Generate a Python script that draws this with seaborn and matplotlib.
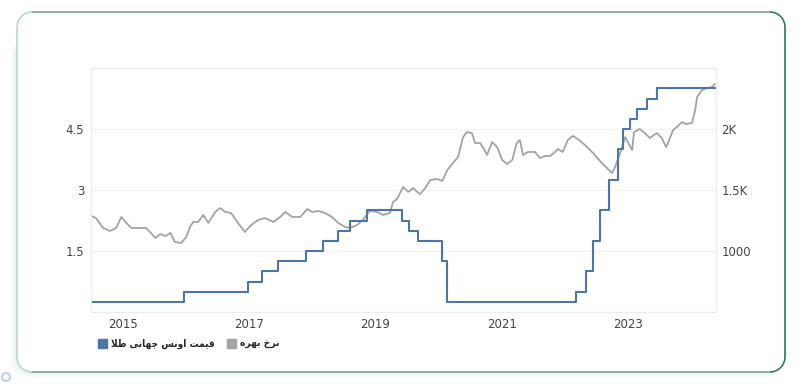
import matplotlib
matplotlib.use("Agg")
import numpy as np
import matplotlib.pyplot as plt
import seaborn as sns
from matplotlib.patches import Patch, Ellipse, Polygon
from matplotlib.collections import LineCollection

# --- data ---
# blue step line (left axis): date of each change (decimal year) and new level
rate_years = [2014.49, 2015.97, 2016.98, 2017.20, 2017.45, 2017.90, 2018.17, 2018.40,
              2018.60, 2018.87, 2019.42, 2019.54, 2019.68, 2020.05, 2020.13, 2022.18,
              2022.34, 2022.45, 2022.56, 2022.70, 2022.85, 2022.93, 2023.03, 2023.14,
              2023.30, 2023.47, 2024.40]
rate_values = [0.25, 0.5, 0.75, 1.0, 1.25, 1.5, 1.75, 2.0,
               2.25, 2.5, 2.25, 2.0, 1.75, 1.25, 0.25, 0.5,
               1.0, 1.75, 2.5, 3.25, 4.0, 4.5, 4.75, 5.0,
               5.25, 5.5, 5.5]

# grey line (right axis)
gold_years = [2014.50, 2014.57, 2014.68, 2014.79, 2014.89, 2014.97, 2015.05, 2015.13,
              2015.24, 2015.36, 2015.44, 2015.51, 2015.59, 2015.67, 2015.75, 2015.82,
              2015.92, 2016.00, 2016.06, 2016.11, 2016.19, 2016.27, 2016.35, 2016.46,
              2016.54, 2016.62, 2016.71, 2016.82, 2016.93, 2017.03, 2017.14, 2017.25,
              2017.38, 2017.49, 2017.57, 2017.68, 2017.81, 2017.92, 2018.00, 2018.09,
              2018.20, 2018.31, 2018.41, 2018.52, 2018.60, 2018.71, 2018.80, 2018.91,
              2019.03, 2019.12, 2019.23, 2019.28, 2019.34, 2019.39, 2019.44, 2019.52,
              2019.60, 2019.68, 2019.71, 2019.79, 2019.87, 2019.98, 2020.06, 2020.14,
              2020.23, 2020.31, 2020.39, 2020.45, 2020.53, 2020.58, 2020.66, 2020.71,
              2020.77, 2020.85, 2020.93, 2021.01, 2021.09, 2021.17, 2021.24, 2021.29,
              2021.34, 2021.42, 2021.53, 2021.61, 2021.69, 2021.77, 2021.85, 2021.89,
              2021.97, 2022.05, 2022.13, 2022.21, 2022.32, 2022.45, 2022.59, 2022.75,
              2022.80, 2022.88, 2022.96, 2023.00, 2023.07, 2023.10, 2023.19, 2023.27,
              2023.35, 2023.46, 2023.54, 2023.61, 2023.67, 2023.72, 2023.80, 2023.86,
              2023.92, 2024.02, 2024.07, 2024.10, 2024.18, 2024.26, 2024.34, 2024.38]
gold_values = [1287, 1270, 1189, 1164, 1189, 1279, 1230, 1189,
               1189, 1189, 1148, 1107, 1139, 1123, 1148, 1074,
               1066, 1115, 1197, 1238, 1238, 1295, 1230, 1320,
               1352, 1320, 1312, 1230, 1156, 1213, 1254, 1270,
               1238, 1279, 1320, 1279, 1279, 1344, 1320, 1328,
               1312, 1279, 1230, 1197, 1189, 1213, 1254, 1328,
               1320, 1295, 1312, 1402, 1426, 1475, 1525, 1484,
               1516, 1475, 1467, 1516, 1582, 1590, 1574, 1664,
               1721, 1771, 1934, 1975, 1967, 1885, 1885, 1844,
               1787, 1893, 1852, 1746, 1713, 1746, 1885, 1910,
               1787, 1812, 1812, 1762, 1779, 1779, 1812, 1836,
               1812, 1910, 1943, 1918, 1869, 1803, 1721, 1639,
               1689, 1803, 1934, 1893, 1828, 1975, 2000, 1967,
               1926, 1967, 1926, 1852, 1926, 1992, 2025, 2057,
               2041, 2049, 2156, 2262, 2320, 2336, 2344, 2369]

year_ticks = [2015, 2017, 2019, 2021, 2023]
left_ticks = [1.5, 3, 4.5]
left_labels = ["1.5", "3", "4.5"]
right_ticks = [1000, 1500, 2000]
right_labels = ["1000", "1.5K", "2K"]
legend_labels = ["قیمت اونس جهانی طلا", "نرخ بهره"]

BLUE = "#4f74a6"
GREY = "#a3a3a3"


# matplotlib has no Arabic shaping, so pick presentation forms by hand
FORMS = {  # isolated, final, initial, medial (None = joins on the right only)
    "ا": ("\uFE8D", "\uFE8E", None, None),
    "ب": ("\uFE8F", "\uFE90", "\uFE91", "\uFE92"),
    "ت": ("\uFE95", "\uFE96", "\uFE97", "\uFE98"),
    "ج": ("\uFE9D", "\uFE9E", "\uFE9F", "\uFEA0"),
    "خ": ("\uFEA5", "\uFEA6", "\uFEA7", "\uFEA8"),
    "ر": ("\uFEAD", "\uFEAE", None, None),
    "س": ("\uFEB1", "\uFEB2", "\uFEB3", "\uFEB4"),
    "ط": ("\uFEC1", "\uFEC2", "\uFEC3", "\uFEC4"),
    "ق": ("\uFED5", "\uFED6", "\uFED7", "\uFED8"),
    "ل": ("\uFEDD", "\uFEDE", "\uFEDF", "\uFEE0"),
    "م": ("\uFEE1", "\uFEE2", "\uFEE3", "\uFEE4"),
    "ن": ("\uFEE5", "\uFEE6", "\uFEE7", "\uFEE8"),
    "ه": ("\uFEE9", "\uFEEA", "\uFEEB", "\uFEEC"),
    "و": ("\uFEED", "\uFEEE", None, None),
    "ی": ("\uFEEF", "\uFEF0", "\uFEF3", "\uFEF4"),
}


def shape(text):
    words = []
    for word in text.split(" "):
        out = []
        i = 0
        prev_joins = False
        while i < len(word):
            ch = word[i]
            if ch == "ل" and i + 1 < len(word) and word[i + 1] == "ا":
                out.append("\uFEFC" if prev_joins else "\uFEFB")
                prev_joins = False
                i += 2
                continue
            iso, fin, ini, med = FORMS[ch]
            joins_next = ini is not None and i + 1 < len(word)
            if prev_joins and joins_next:
                out.append(med)
            elif prev_joins:
                out.append(fin)
            elif joins_next:
                out.append(ini)
            else:
                out.append(iso)
            prev_joins = ini is not None
            i += 1
        words.append("".join(out))
    return " ".join(words)[::-1]


W, H = 800, 384


def card_outline(x0, y0, x1, y1, r, n=12):
    # rounded rectangle as a closed polyline, pixel coords (y down) -> figure coords
    pts = []
    corners = [(x1 - r, y0 + r, -90, 0), (x1 - r, y1 - r, 0, 90),
               (x0 + r, y1 - r, 90, 180), (x0 + r, y0 + r, 180, 270)]
    for cx, cy, a0, a1 in corners:
        t = np.radians(np.linspace(a0, a1, n))
        pts += list(zip(cx + r * np.cos(t), cy + r * np.sin(t)))
    pts.append(pts[0])
    pts = np.array(pts)
    return pts, np.column_stack([pts[:, 0] / W, 1 - pts[:, 1] / H])


sns.set_theme(style="white")
plt.rcParams["font.family"] = ["DejaVu Sans"]

fig = plt.figure(figsize=(W / 100, H / 100), dpi=100)
fig.patch.set_facecolor("white")

# soft shadow under the card (down and to the left)
for grow, a in [(6, 0.12), (4, 0.18), (2, 0.28)]:
    _, sh = card_outline(17 - grow, 40, 785 - grow, 372 + grow, 15)
    fig.patches.append(Polygon(sh, closed=True, transform=fig.transFigure,
                               facecolor="#d3e8e0", edgecolor="none", alpha=a, zorder=0))

pts, pts_fig = card_outline(17, 12, 785, 372, 15)
fig.patches.append(Polygon(pts_fig, closed=True, transform=fig.transFigure,
                           facecolor="white", edgecolor="none", zorder=0.2))

# card border fades from pale on the left to dark green on the right
segs = np.stack([pts_fig[:-1], pts_fig[1:]], axis=1)
mid_x = (pts[:-1, 0] + pts[1:, 0]) / 2
t = np.clip((mid_x - 17) / 768, 0, 1)[:, None]
light = np.array([0.72, 0.83, 0.78])
dark = np.array([0.12, 0.42, 0.28])
border = LineCollection(segs, colors=light + (dark - light) * t, linewidths=1.1,
                        transform=fig.transFigure, zorder=0.3)
fig.add_artist(border)
fig.patches.append(Ellipse((6 / W, 1 - 377 / H), 8 / W, 8 / H, transform=fig.transFigure,
                           facecolor="none", edgecolor="#b7d2ea", linewidth=1.5))

ax = fig.add_axes([91 / W, 72 / H, 625 / W, 244 / H])
ax.set_zorder(2)
ax2 = ax.twinx()
ax2.set_zorder(1)
ax.patch.set_visible(False)
ax2.patch.set_facecolor("white")

sns.lineplot(x=gold_years, y=gold_values, ax=ax2, color=GREY, linewidth=1.3)
sns.lineplot(x=rate_years, y=rate_values, ax=ax, color=BLUE, linewidth=1.5,
             drawstyle="steps-post")

ax.set_xlim(2014.49, 2024.40)
ax.set_ylim(0, 6)
ax2.set_ylim(500, 2500)

ax.set_xticks(year_ticks)
ax.set_xticklabels([str(y) for y in year_ticks])
ax.set_yticks(left_ticks)
ax.set_yticklabels(left_labels)
ax2.set_yticks(right_ticks)
ax2.set_yticklabels(right_labels)

for a in (ax, ax2):
    a.set_xlabel("")
    a.set_ylabel("")
    a.tick_params(length=0, labelsize=8.5, labelcolor="#444444")
    for s in a.spines.values():
        s.set_color("#ececec")
        s.set_linewidth(0.8)
ax.tick_params(axis="x", pad=4)
ax.tick_params(axis="y", pad=5)
ax2.tick_params(axis="y", pad=4)

ax2.grid(True, axis="both", color="#f1f1f1", linewidth=0.8)
ax2.set_xticks(year_ticks)
ax.grid(False)

handles = [Patch(facecolor=BLUE, edgecolor=BLUE), Patch(facecolor=GREY, edgecolor=GREY)]
fig.legend(handles, [shape(t) for t in legend_labels], loc="center left",
           bbox_to_anchor=(93 / W, 1 - 344 / H), ncol=2, frameon=False,
           borderpad=0, handlelength=0.9, handleheight=0.9, handletextpad=0.4,
           columnspacing=1.2,
           prop={"family": "DejaVu Sans", "weight": "bold", "size": 7.3,
                 "stretch": "condensed"})

fig.savefig("out.png", dpi=100, facecolor="white")
